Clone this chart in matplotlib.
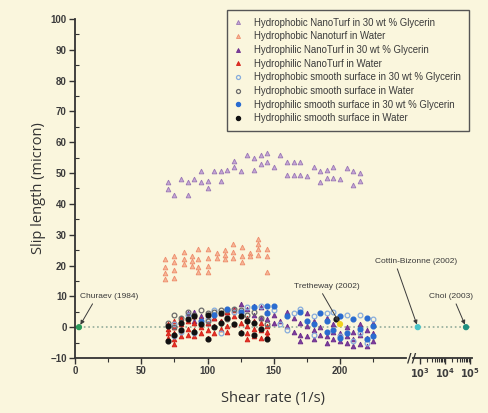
import numpy as np
import matplotlib
matplotlib.use("Agg")
import matplotlib.pyplot as plt

BG = '#faf6dd'

# Hydrophobic NanoTurf in 30 wt % Glycerin
phob_turf_gly_x = [70, 70, 75, 80, 85, 85, 90, 95, 95, 100, 100, 105, 110, 110, 115, 120, 120,
                   125, 130, 135, 135, 140, 140, 145, 145, 150, 155, 160, 160, 165, 165, 170, 170,
                   175, 180, 185, 185, 190, 190, 195, 195, 200, 205, 210, 210, 215, 215]
phob_turf_gly_y = [47, 44.7, 43, 48, 43, 47, 48, 50.6, 47, 47.5, 45, 50.6, 47.5, 50.6, 51, 52, 54,
                   50.6, 56, 51, 55, 56, 53, 56.5, 53.5, 52, 56, 53.5, 49.5, 53.5, 49.5, 53.5, 49.5,
                   49, 52, 50.6, 47, 51, 48.5, 52, 48.5, 48, 51.5, 50.6, 46, 50, 47.5]

# Hydrophobic Nanoturf in Water
phob_turf_wat_x = [68, 68, 68, 68, 75, 75, 75, 75, 82, 82, 82, 88, 88, 88, 93, 93, 93, 93,
                   100, 100, 100, 100, 107, 107, 113, 113, 113, 119, 119, 119, 126, 126, 126,
                   132, 132, 138, 138, 138, 138, 145, 145, 145]
phob_turf_wat_y = [22, 19.5, 17.5, 15.5, 23, 21, 18.5, 16, 24.5, 22, 20.5, 23, 21.5, 20, 25.5, 22, 19.5, 18,
                   25.5, 22.5, 20, 18, 24, 22.5, 25, 23.5, 22, 27, 24.5, 22.5, 26, 23, 21,
                   24, 23, 28.5, 27, 25.5, 23.5, 25.5, 23, 18]

# Hydrophilic NanoTurf in 30 wt % Glycerin
phil_turf_gly_x = [80, 85, 90, 90, 95, 100, 105, 110, 110, 115, 120, 125, 125, 130, 130, 135, 135,
                   140, 140, 145, 145, 150, 150, 155, 160, 160, 165, 165, 170, 170, 170, 175, 175, 175,
                   180, 180, 180, 185, 185, 190, 190, 190, 195, 195, 195, 200, 200, 205, 205, 205,
                   210, 210, 210, 215, 215, 215, 220, 220, 220, 225, 225, 225]
phil_turf_gly_y = [3, 4.5, 2, 5, 3.5, 1.5, 3, 4.5, 2, 5, 6, 7.5, 4, 6, 3, 7, 4,
                   6.5, 3, 5, 2.5, 4, 1.5, 2, 5, 0.5, 3, -1.5, 1.5, -2.5, -4.5, 4.5, 0.5, -3,
                   2, -1, -4, 0, -2.5, 3, -3, -5, 1, -1.5, -4, -2, -4.5, 0, -3, -5,
                   -1.5, -4, -6, 1, -2.5, -5.5, -1, -3.5, -6, 1.5, -2, -4.5]

# Hydrophilic NanoTurf in Water
phil_turf_wat_x = [70, 70, 70, 70, 75, 75, 75, 75, 75, 80, 80, 80, 80, 85, 85, 85, 90, 90, 90, 90,
                   95, 95, 95, 100, 100, 100, 100, 105, 105, 105, 110, 110, 110, 115, 115, 115, 115,
                   120, 120, 120, 125, 125, 125, 130, 130, 130, 130, 135, 135, 135, 140, 140, 140,
                   145, 145, 145]
phil_turf_wat_y = [-0.5, -2, -3.5, 1, 2, 0, -2, -4, -5.5, 3, 1, -1, -3, 2, -0.5, -2.5, 3.5, 1.5, -1, -3,
                   2.5, 0, -2, 4, 1.5, -1, -3.5, 3, 0.5, -2, 4.5, 2, -0.5, 5, 3, 0.5, -1.5,
                   5.5, 3.5, 1, 4, 1.5, -1.5, 3, 0.5, -2, -4, 2, -0.5, -3, 1.5, -1, -3.5,
                   0.5, -1.5, -3]

# Hydrophobic smooth surface in 30 wt % Glycerin
phob_smooth_gly_x = [75, 75, 80, 85, 90, 100, 105, 110, 120, 130, 140, 150, 155, 160, 165, 170,
                     180, 180, 190, 195, 200, 205, 210, 215, 215, 220, 225]
phob_smooth_gly_y = [1, -3, -1.5, 4, -2, 2.5, 5.5, -2, 5, 6.5, 7, 5.5, 1, -1, 4.5, 6,
                     3.5, -2.5, 4.5, 5, -3, 4, -4.5, 4, -2, -5, 2.5]

# Hydrophobic smooth surface in Water
phob_smooth_wat_x = [70, 75, 75, 80, 85, 90, 95, 100, 100, 105, 110, 115, 115, 120, 125, 130, 135, 140, 145]
phob_smooth_wat_y = [1.5, 4, 0, 3, 5, 4, 5.5, 4.5, 2, 5, 5.5, 5.5, 2.5, 6, 5.5, 4, 5, 3, 1]

# Hydrophilic smooth surface in 30 wt % Glycerin
phil_smooth_gly_x = [95, 105, 115, 125, 135, 145, 145, 150, 160, 170, 175, 180, 185, 190, 190,
                     195, 200, 200, 205, 210, 215, 220, 220, 225, 225]
phil_smooth_gly_y = [2, 4, 6, 5, 6.5, 7, 4.5, 7, 3.5, 5, 2, 1, 4.5, 2, -1.5,
                     -1, 3.5, -3.5, -2, 2.5, -0.5, 3, -4, 0.5, -3]

# Hydrophilic smooth surface in Water
phil_smooth_wat_x = [70, 70, 75, 80, 80, 85, 90, 90, 95, 100, 100, 105, 110, 110, 115, 120,
                     125, 125, 130, 135, 135, 140, 145, 197]
phil_smooth_wat_y = [-4.5, 0.5, -2.5, 1.5, -1, 2.5, 3.5, -1.5, 1, 4, -4, 0, 4.5, 1.5, 3, 1,
                     3.5, -2, 2, 1.5, -2.5, -0.5, -4, 2.5]

legend_labels = [
    "Hydrophobic NanoTurf in 30 wt % Glycerin",
    "Hydrophobic Nanoturf in Water",
    "Hydrophilic NanoTurf in 30 wt % Glycerin",
    "Hydrophilic NanoTurf in Water",
    "Hydrophobic smooth surface in 30 wt % Glycerin",
    "Hydrophobic smooth surface in Water",
    "Hydrophilic smooth surface in 30 wt % Glycerin",
    "Hydrophilic smooth surface in Water",
]

# literature points (shear rate, slip length)
lit_names = ["Churaev (1984)", "Tretheway (2002)", "Cottin-Bizonne (2002)", "Choi (2003)"]
lit_x = [3, 200, 900, 70000]
lit_y = [0, 1, 0, 0]
lit_colors = ['#2a9a5a', '#f2d21e', '#48c4c8', '#1f8f80']


# broken x axis: linear up to 250, then log decades 10^3 .. 10^5
def fwd(x):
    x = np.asarray(x, dtype=float)
    with np.errstate(all='ignore'):
        mid = 250 + (x - 250) / 75.0
        lg = 260 + 19 * np.log10(np.maximum(x, 1e-9) / 1000.0)
    return np.where(x <= 250, x, np.where(x < 1000, mid, lg))


def inv(u):
    u = np.asarray(u, dtype=float)
    with np.errstate(all='ignore'):
        mid = 250 + (u - 250) * 75.0
        lg = 1000.0 * 10 ** ((np.minimum(u, 400) - 260) / 19.0)
    return np.where(u <= 250, u, np.where(u < 260, mid, lg))


fig = plt.figure(figsize=(4.88, 4.13), dpi=100, facecolor=BG)
ax = fig.add_axes([0.1537, 0.1332, 0.8133, 0.8208])
ax.set_facecolor(BG)
ax.set_xscale('function', functions=(fwd, inv))

# zero reference line
ax.plot([0, 1.2e5], [0, 0], linestyle=':', color='#92ab9a', linewidth=1.2, zorder=1)

ms = 3.4
ax.plot(phob_turf_gly_x, phob_turf_gly_y, '^', color='#c6a6d6', mec='#9a78b4', mew=0.6, ms=ms,
        linestyle='none', label=legend_labels[0])
ax.plot(phob_turf_wat_x, phob_turf_wat_y, '^', color='#f6b796', mec='#ee8c6c', mew=0.6, ms=ms,
        linestyle='none', label=legend_labels[1])
ax.plot(phil_turf_gly_x, phil_turf_gly_y, '^', color='#7d3d9e', mec='#6a2c8a', mew=0.6, ms=ms,
        linestyle='none', label=legend_labels[2])
ax.plot(phil_turf_wat_x, phil_turf_wat_y, '^', color='#e83024', mec='#d02018', mew=0.6, ms=ms,
        linestyle='none', label=legend_labels[3])
ax.plot(phob_smooth_gly_x, phob_smooth_gly_y, 'o', mfc='none', mec='#86acdc', mew=0.9, ms=ms,
        linestyle='none', label=legend_labels[4])
ax.plot(phob_smooth_wat_x, phob_smooth_wat_y, 'o', mfc='none', mec='#6a6a6a', mew=0.9, ms=ms,
        linestyle='none', label=legend_labels[5])
ax.plot(phil_smooth_gly_x, phil_smooth_gly_y, 'o', color='#2a6cd0', ms=ms,
        linestyle='none', label=legend_labels[6])
ax.plot(phil_smooth_wat_x, phil_smooth_wat_y, 'o', color='#111111', ms=ms,
        linestyle='none', label=legend_labels[7])

ax.scatter(lit_x, lit_y, s=12, c=lit_colors, zorder=5, clip_on=False)

arrow = dict(arrowstyle='-|>', color='#3a3a3a', lw=0.7, mutation_scale=6, shrinkA=1, shrinkB=2)
txt = dict(fontsize=6, color='#3a3a3a', family='Liberation Sans', va='center')
ax.annotate(lit_names[0], xy=(lit_x[0], lit_y[0]), xytext=(4, 10), ha='left',
            arrowprops=dict(arrow, relpos=(0.25, 0)), **txt)
ax.annotate(lit_names[1], xy=(lit_x[1], lit_y[1]), xytext=(190, 13.3), ha='center',
            arrowprops=dict(arrow, relpos=(0.4, 0)), **txt)
ax.annotate(lit_names[2], xy=(lit_x[2], lit_y[2]), xytext=(775, 21.4), ha='center',
            arrowprops=dict(arrow, relpos=(0.26, 0)), **txt)
ax.annotate(lit_names[3], xy=(lit_x[3], lit_y[3]), xytext=(17500, 10), ha='center',
            arrowprops=dict(arrow, relpos=(0.58, 0)), **txt)

ax.set_xlim(0, 1.2e5)
ax.set_ylim(-10, 100)

ax.set_xticks([0, 50, 100, 150, 200, 1e3, 1e4, 1e5])
ax.set_xticklabels(['0', '50', '100', '150', '200', r'$\mathbf{10^3}$', r'$\mathbf{10^4}$', r'$\mathbf{10^5}$'])
ax.set_xticks([25, 75, 125, 175, 225] + [k * 1e3 for k in range(2, 10)] + [k * 1e4 for k in range(2, 10)],
              minor=True)
ax.set_yticks(np.arange(-10, 101, 10))
ax.set_yticks(np.arange(-5, 100, 5), minor=True)

for lab in ax.get_xticklabels() + ax.get_yticklabels():
    lab.set_family('Liberation Sans')
    lab.set_fontweight('bold')
    lab.set_fontsize(7)
    lab.set_color('#3c3c3c')

ax.tick_params(axis='both', which='major', direction='out', length=4, width=1, color='#333333', pad=2)
ax.tick_params(axis='y', which='minor', direction='in', length=3, width=0.8, color='#333333')
ax.tick_params(axis='x', which='minor', direction='out', length=3, width=0.8, color='#333333')

for side in ['top', 'right']:
    ax.spines[side].set_visible(False)
ax.spines['left'].set_color('#333333')
ax.spines['left'].set_linewidth(1.3)
ax.spines['bottom'].set_color('#333333')
ax.spines['bottom'].set_linewidth(1.3)
ax.spines['bottom'].set_bounds(0, 250)

# second part of the broken x axis
ax.plot([625, 1.2e5], [-10, -10], color='#333333', linewidth=1.3, clip_on=False, zorder=6)
ax.text(550, -10, '//', fontsize=9, fontweight='bold', color='#333333', ha='center', va='center',
        family='DejaVu Sans', zorder=7, clip_on=False)

ax.set_ylabel('Slip length (micron)', family='Open Sans', fontsize=10.5, color='#333333', labelpad=3)
ax.set_xlabel('Shear rate (1/s)', family='Open Sans', fontsize=10.5, color='#333333', labelpad=8)

leg = ax.legend(loc='upper right', bbox_to_anchor=(1.0, 1.035), frameon=True,
                fancybox=False, edgecolor='#555555', facecolor=BG, framealpha=1,
                handlelength=0.8, handletextpad=1.3, labelspacing=0.38, borderpad=0.8,
                borderaxespad=0.3, markerscale=0.85,
                prop={'family': 'Liberation Sans', 'size': 6.9})
leg.get_frame().set_linewidth(1.0)
for t in leg.get_texts():
    t.set_color('#3a3a3a')

fig.savefig('out.png', dpi=100, facecolor=BG)
